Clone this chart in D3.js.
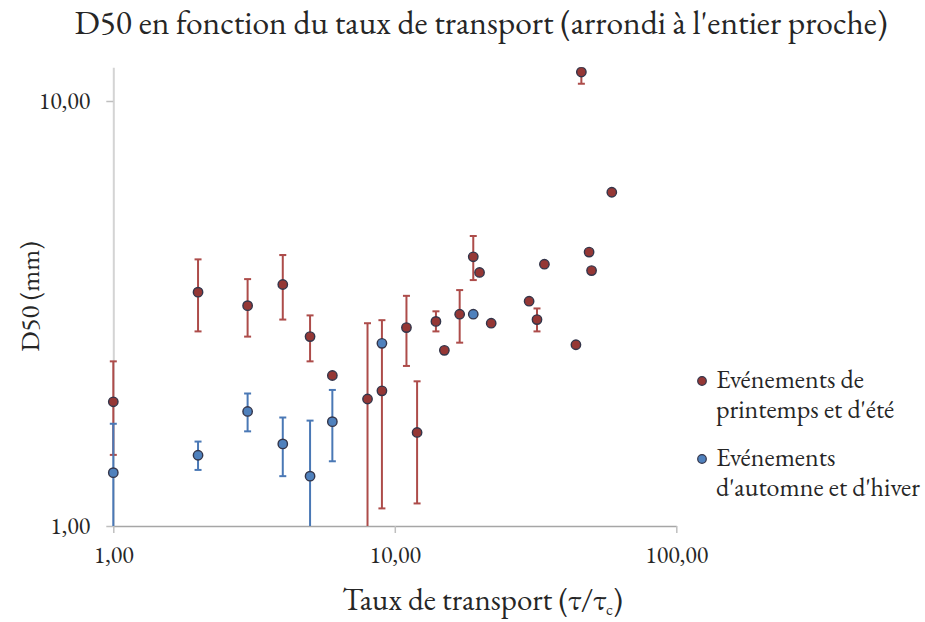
<!DOCTYPE html>
<html>
<head>
<meta charset="utf-8">
<script src="https://cdn.jsdelivr.net/npm/d3@7"></script>
<style>
  html, body { margin: 0; padding: 0; background: #fff; }
  svg { display: block; }
  svg text { font-family: "EB Garamond", "Liberation Serif", serif; font-variant-numeric: lining-nums; }
</style>
</head>
<body>
<svg id="chart" width="925" height="622"></svg>
<script>
// ---- Data ----
const springX  = [1, 2, 3, 4, 5, 6, 8, 9, 11, 12, 14, 15, 17, 19, 20, 22, 30, 32, 34, 44, 46, 49, 50, 59];
const springY  = [1.96, 3.55, 3.30, 3.70, 2.79, 2.26, 1.99, 2.08, 2.93, 1.66, 3.03, 2.59, 3.15, 4.30, 3.95, 3.00, 3.38, 3.06, 4.13, 2.67, 11.7, 4.41, 3.99, 6.10];
const springLo = [1.47, 2.87, 2.79, 3.06, 2.44, null, 0.90, 1.10, 2.38, 1.13, 2.87, null, 2.70, 3.79, null, null, null, 2.87, null, null, 10.98, null, null, null];
const springHi = [2.44, 4.24, 3.81, 4.34, 3.13, null, 3.00, 3.05, 3.48, 2.19, 3.20, null, 3.59, 4.81, null, null, null, 3.25, null, null, 12.5, null, null, null];

const autumnX  = [1, 2, 3, 4, 5, 6, 9, 19];
const autumnY  = [1.335, 1.467, 1.86, 1.56, 1.31, 1.76, 2.69, 3.15];
const autumnLo = [0.90, 1.355, 1.67, 1.31, 0.90, 1.42, null, null];
const autumnHi = [1.74, 1.58, 2.05, 1.80, 1.77, 2.09, null, null];

const xTicks = [1, 10, 100];
const yTicks = [1, 10];
const fmt = v => v.toFixed(2).replace(".", ",");

const titleText = "D50 en fonction du taux de transport (arrondi à l'entier proche)";
const yTitle = "D50 (mm)";
const legendLabels = [["Evénements de", "printemps et d'été"], ["Evénements", "d'automne et d'hiver"]];

const series = [
  { x: springX, y: springY, lo: springLo, hi: springHi, fill: "#953735", bar: "#ad4c4a" },
  { x: autumnX, y: autumnY, lo: autumnLo, hi: autumnHi, fill: "#4f81bd", bar: "#4a78b5" }
];

// ---- Layout ----
const svg = d3.select("#chart");
const x = d3.scaleLog().domain([1, 100]).range([113.3, 676.3]);
const y = d3.scaleLog().domain([1, 12]).range([526, 526 - 425 * Math.log10(12)]);

// Title
svg.append("text")
  .attr("x", 481).attr("y", 33.5)
  .attr("text-anchor", "middle")
  .attr("font-size", 33.5).attr("fill", "#262626")
  .text(titleText);

// clip for plot area
svg.append("defs").append("clipPath").attr("id", "plotclip")
  .append("rect").attr("x", 100).attr("y", y.range()[1]).attr("width", 600).attr("height", 526 - y.range()[1] + 10);

// Y axis
const yAxis = svg.append("g").attr("transform", `translate(${x(1)},0)`)
  .call(d3.axisLeft(y).tickValues(yTicks).tickFormat(fmt).tickSize(7).tickSizeOuter(0).tickPadding(16));
yAxis.attr("font-family", null);
yAxis.select(".domain").attr("stroke", "#d4d4d4").attr("stroke-width", 2);
yAxis.selectAll(".tick line").attr("stroke", "#bfbfbf").attr("stroke-width", 1.5);
yAxis.selectAll(".tick text").attr("font-size", 24).attr("fill", "#262626");

// X axis
const xAxis = svg.append("g").attr("transform", `translate(0,${y(1)})`)
  .call(d3.axisBottom(x).tickValues(xTicks).tickFormat(fmt).tickSize(7).tickSizeOuter(0).tickPadding(13));
xAxis.attr("font-family", null);
xAxis.select(".domain").attr("stroke", "#a6a6a6").attr("stroke-width", 1.5);
xAxis.selectAll(".tick line").attr("stroke", "#bfbfbf").attr("stroke-width", 1.5);
xAxis.selectAll(".tick text").attr("font-size", 24).attr("fill", "#262626");

// Axis titles
svg.append("text")
  .attr("transform", `translate(39,${(526 + 67) / 2}) rotate(-90)`)
  .attr("text-anchor", "middle")
  .attr("font-size", 27).attr("fill", "#262626")
  .text(yTitle);

const xt = svg.append("text")
  .attr("x", 482.5).attr("y", 610)
  .attr("text-anchor", "middle")
  .attr("font-size", 31).attr("fill", "#262626");
xt.append("tspan").text("Taux de transport (τ/τ");
xt.append("tspan").attr("font-size", 17).attr("dy", 5).text("c");
xt.append("tspan").attr("dy", -5).text(")");

// Error bars and markers
const plot = svg.append("g").attr("clip-path", "url(#plotclip)");
const capW = 3.5;
const yMin = 526, yMax = y.range()[1];
series.forEach(s => {
  const idx = d3.range(s.x.length);
  const g = plot.append("g");
  idx.forEach(i => {
    if (s.lo[i] == null) return;
    const cx = x(s.x[i]);
    const yLo = Math.min(y(s.lo[i]), yMin);
    const yHi = y(s.hi[i]);
    g.append("line").attr("x1", cx).attr("x2", cx).attr("y1", yLo).attr("y2", yHi)
      .attr("stroke", s.bar).attr("stroke-width", 2);
    if (s.lo[i] >= 1) g.append("line").attr("x1", cx - capW).attr("x2", cx + capW)
      .attr("y1", y(s.lo[i])).attr("y2", y(s.lo[i])).attr("stroke", s.bar).attr("stroke-width", 2);
    if (yHi >= yMax) g.append("line").attr("x1", cx - capW).attr("x2", cx + capW)
      .attr("y1", yHi).attr("y2", yHi).attr("stroke", s.bar).attr("stroke-width", 2);
  });
  g.selectAll("circle").data(idx).join("circle")
    .attr("cx", i => x(s.x[i])).attr("cy", i => y(s.y[i])).attr("r", 4.7)
    .attr("fill", s.fill).attr("stroke", "#33354a").attr("stroke-width", 1.4);
});

// Legend
const lg = svg.append("g");
const legendY = [381, 459];
series.forEach((s, k) => {
  lg.append("circle").attr("cx", 702).attr("cy", legendY[k]).attr("r", 4.3)
    .attr("fill", s.fill).attr("stroke", "#33354a").attr("stroke-width", 1.2);
  const t = lg.append("text").attr("x", 716).attr("y", legendY[k] + 7)
    .attr("font-size", 26).attr("fill", "#262626");
  t.append("tspan").attr("x", 716).text(legendLabels[k][0]);
  t.append("tspan").attr("x", 716).attr("dy", 30).text(legendLabels[k][1]);
});
</script>
</body>
</html>
